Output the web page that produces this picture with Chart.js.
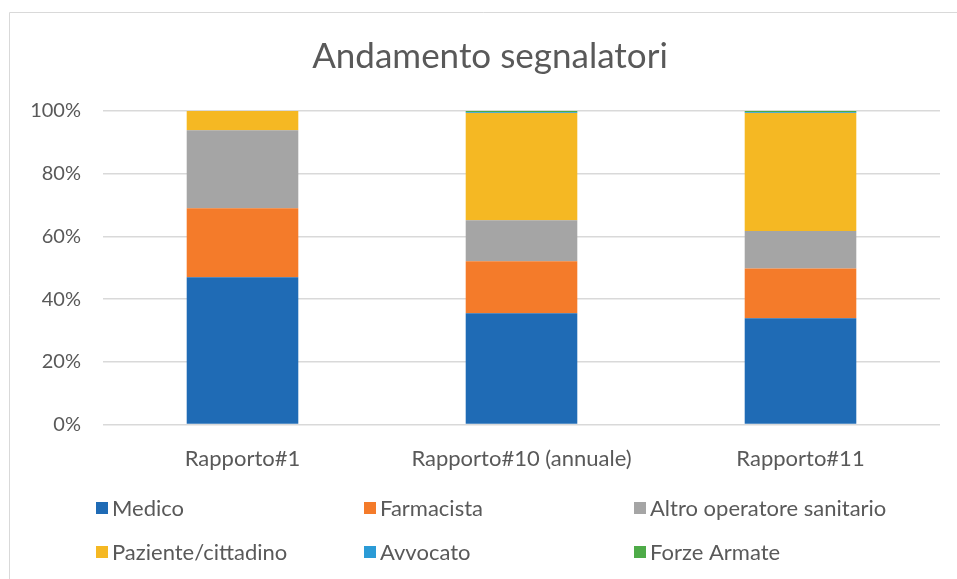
<!DOCTYPE html>
<html>
<head>
<meta charset="utf-8">
<script src="https://cdn.jsdelivr.net/npm/chart.js@4.4.1/dist/chart.umd.min.js"></script>
<style>
  html, body { margin: 0; padding: 0; background: #fff; }
  #wrap { width: 957px; height: 579px; }
</style>
</head>
<body>
<div id="wrap"><canvas id="chart"></canvas></div>
<script>
// categories and shares (%)
const categories = ["Rapporto#1", "Rapporto#10 (annuale)", "Rapporto#11"];
const medico = [47.0, 35.5, 33.9];
const farmacista = [22.0, 16.6, 15.9];
const altroOperatore = [24.9, 13.1, 11.9];
const paziente = [6.1, 34.2, 37.7];
const avvocato = [0, 0.2, 0.2];
const forzeArmate = [0, 0.4, 0.4];
const yTicks = [0, 20, 40, 60, 80, 100];

const chartTitle = "Andamento segnalatori";
const textColor = "#595959";
const font = "Lato";

// chart frame (left + top border) and title, like the Excel chart box
const framePlugin = {
    id: "frame",
    beforeDraw(chart) {
        const ctx = chart.ctx;
        ctx.save();
        ctx.strokeStyle = "#d9d9d9";
        ctx.lineWidth = 1;
        ctx.beginPath();
        ctx.moveTo(9.5, chart.height);
        ctx.lineTo(9.5, 12.5);
        ctx.lineTo(chart.width, 12.5);
        ctx.stroke();

        ctx.fillStyle = textColor;
        ctx.font = "35px " + font;
        ctx.textAlign = "center";
        ctx.textBaseline = "middle";
        ctx.fillText(chartTitle, 490, 57);
        ctx.restore();
    }
};

// legend in a 3 column grid under the chart
const gridLegend = {
    id: "gridLegend",
    afterDraw(chart) {
        const ctx = chart.ctx;
        const cols = [96, 364, 634];
        const rows = [508, 552];
        ctx.save();
        ctx.font = "22px " + font;
        ctx.textBaseline = "middle";
        chart.data.datasets.forEach((ds, i) => {
            const x = cols[i % 3];
            const y = rows[Math.floor(i / 3)];
            ctx.fillStyle = ds.backgroundColor;
            ctx.fillRect(x, y - 6, 12, 12);
            ctx.fillStyle = textColor;
            ctx.fillText(ds.label, x + 16, y + 1);
        });
        ctx.restore();
    }
};

new Chart(document.getElementById("chart"), {
    type: "bar",
    data: {
        labels: categories,
        datasets: [
            { label: "Medico", data: medico, backgroundColor: "#1f6bb5" },
            { label: "Farmacista", data: farmacista, backgroundColor: "#f47b2a" },
            { label: "Altro operatore sanitario", data: altroOperatore, backgroundColor: "#a5a5a5" },
            { label: "Paziente/cittadino", data: paziente, backgroundColor: "#f5b823" },
            { label: "Avvocato", data: avvocato, backgroundColor: "#2b9bd6" },
            { label: "Forze Armate", data: forzeArmate, backgroundColor: "#4eab48" }
        ]
    },
    options: {
        responsive: true,
        maintainAspectRatio: false,
        animation: false,
        datasets: { bar: { categoryPercentage: 1, barPercentage: 0.4, borderWidth: 0 } },
        layout: { padding: { left: 0, right: 17, top: 111, bottom: 94 } },
        plugins: {
            legend: { display: false },
            tooltip: { enabled: false },
            title: { display: false }
        },
        scales: {
            x: {
                stacked: true,
                grid: { display: false },
                border: { display: false },
                ticks: { color: textColor, font: { family: font, size: 22 }, padding: 13 }
            },
            y: {
                stacked: true,
                min: 0,
                max: 100,
                afterFit(scale) { scale.width = 103; },
                afterBuildTicks(scale) { scale.ticks = yTicks.map(v => ({ value: v })); },
                grid: { color: "#d9d9d9", lineWidth: 1.5, drawTicks: false },
                border: { display: false },
                ticks: {
                    color: textColor,
                    font: { family: font, size: 20 },
                    padding: 22,
                    callback: v => v + "%"
                }
            }
        }
    },
    plugins: [framePlugin, gridLegend]
});
</script>
</body>
</html>
